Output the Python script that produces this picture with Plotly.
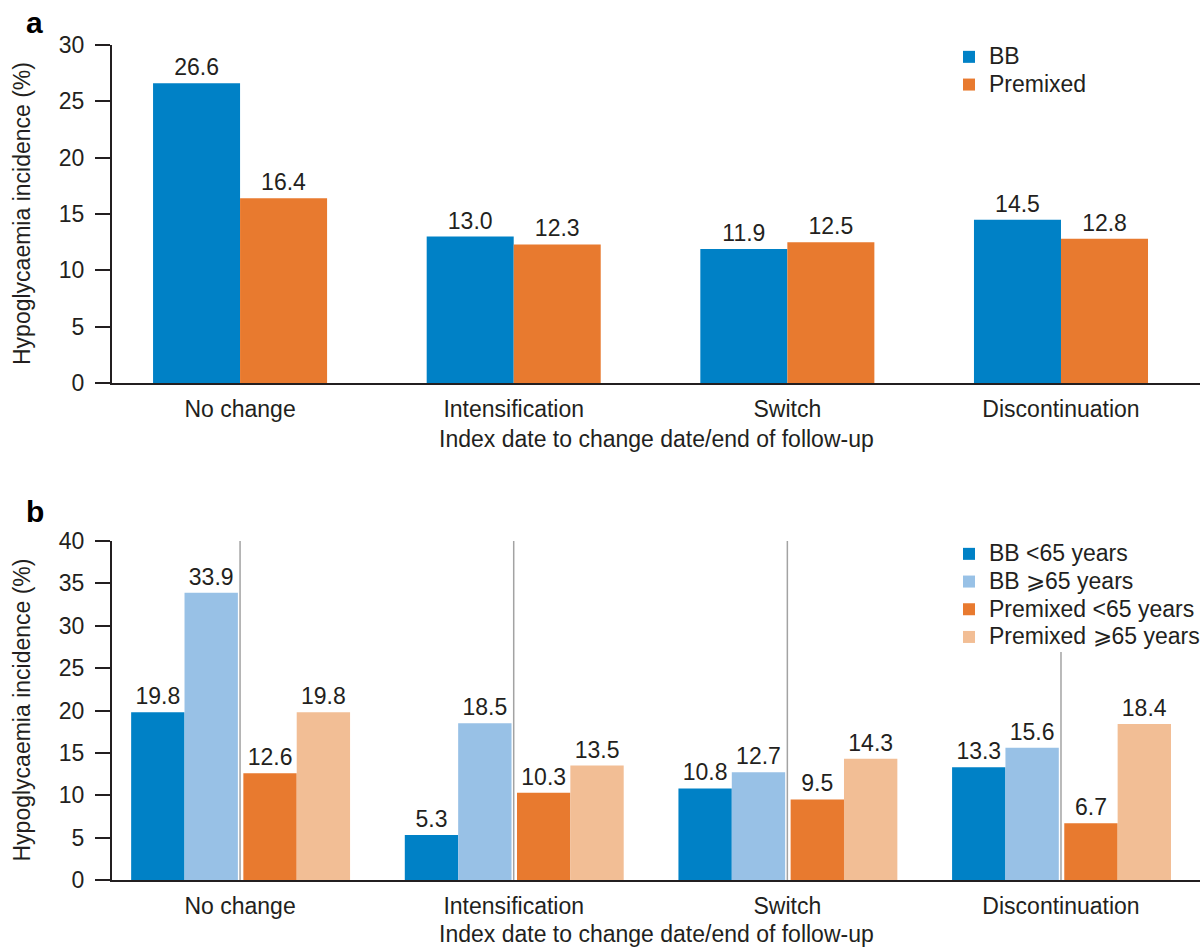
import plotly.graph_objects as go

# ---------------- data ----------------
categories = ["No change", "Intensification", "Switch", "Discontinuation"]

# panel a
bb_all = [26.6, 13.0, 11.9, 14.5]
premixed_all = [16.4, 12.3, 12.5, 12.8]

# panel b
bb_lt65 = [19.8, 5.3, 10.8, 13.3]
bb_ge65 = [33.9, 18.5, 12.7, 15.6]
pm_lt65 = [12.6, 10.3, 9.5, 6.7]
pm_ge65 = [19.8, 13.5, 14.3, 18.4]

names_a = ["BB", "Premixed"]
names_b = ["BB <65 years", "BB \u2a7e65 years", "Premixed <65 years", "Premixed \u2a7e65 years"]

ticks_a = [0, 5, 10, 15, 20, 25, 30]
ticks_b = [0, 5, 10, 15, 20, 25, 30, 35, 40]

y_title = "Hypoglycaemia incidence (%)"
x_title = "Index date to change date/end of follow-up"

# ---------------- style ----------------
W, H = 1201, 948
FONT = "Arial, Liberation Sans, Helvetica, sans-serif"
TXT = "#231f20"
FS = 23
C_BB = "#0081c6"
C_BB2 = "#98c1e6"
C_PM = "#e87a2f"
C_PM2 = "#f2be95"


def px_x(p):
    return p / W


def px_y(p):
    return 1 - p / H


xdom = [px_x(112), px_x(1200)]
ya_dom = [px_y(383), px_y(45)]
yb_dom = [px_y(880), px_y(541)]
xrange_ = [-0.468, 3.508]

fig = go.Figure()


def fmt(vals):
    return [f"{v:.1f}" for v in vals]


def leg_name(n):
    # larger glyphs than the legend's row spacing font (tighter rows as in reference)
    return f'<span style="font-size:23px">{n}</span>'


def add_bar(name, vals, color, xa, ya, legend, off, wid, grp):
    fig.add_trace(go.Bar(
        name=leg_name(name), x=categories, y=vals, text=fmt(vals),
        textposition="outside", cliponaxis=False, constraintext="none",
        textfont=dict(family=FONT, size=FS, color=TXT),
        marker=dict(color=color, line=dict(width=0)),
        offset=off, width=wid, xaxis=xa, yaxis=ya, legend=legend,
        legendgroup=grp, hoverinfo="skip",
    ))


add_bar(names_a[0], bb_all, C_BB, "x", "y", "legend", -0.318, 0.318, "a1")
add_bar(names_a[1], premixed_all, C_PM, "x", "y", "legend", 0.0, 0.318, "a2")

wb = 0.195
add_bar(names_b[0], bb_lt65, C_BB, "x2", "y2", "legend2", -0.398, wb, "b1")
add_bar(names_b[1], bb_ge65, C_BB2, "x2", "y2", "legend2", -0.203, wb, "b2")
add_bar(names_b[2], pm_lt65, C_PM, "x2", "y2", "legend2", 0.012, wb, "b3")
add_bar(names_b[3], pm_ge65, C_PM2, "x2", "y2", "legend2", 0.207, wb, "b4")

axis_common = dict(
    showline=True, linecolor=TXT, linewidth=2, showgrid=False, zeroline=False,
    tickfont=dict(family=FONT, size=FS, color=TXT), automargin=False,
)

LEG_FS = 19
fig.update_layout(
    width=W, height=H,
    margin=dict(l=0, r=0, t=0, b=0, autoexpand=False),
    paper_bgcolor="white", plot_bgcolor="white",
    font=dict(family=FONT, size=FS, color=TXT),
    barmode="group",
    xaxis=dict(domain=xdom, anchor="y", type="category", range=xrange_,
               ticks="", ticklabelstandoff=4, **axis_common),
    yaxis=dict(domain=ya_dom, anchor="x", range=[0, 30], tickvals=ticks_a,
               ticks="outside", ticklen=15, tickwidth=2, tickcolor=TXT,
               ticklabelstandoff=6, **axis_common),
    xaxis2=dict(domain=xdom, anchor="y2", type="category", range=xrange_,
                ticks="", ticklabelstandoff=4, **axis_common),
    yaxis2=dict(domain=yb_dom, anchor="x2", range=[0, 40], tickvals=ticks_b,
                ticks="outside", ticklen=15, tickwidth=2, tickcolor=TXT,
                ticklabelstandoff=6, **axis_common),
    legend=dict(x=px_x(949), y=px_y(38), xanchor="left", yanchor="top",
                bgcolor="rgba(0,0,0,0)", font=dict(family=FONT, size=LEG_FS, color=TXT),
                tracegroupgap=0, itemclick=False),
    legend2=dict(x=px_x(949), y=px_y(535), xanchor="left", yanchor="top",
                 bgcolor="rgba(0,0,0,0)", font=dict(family=FONT, size=LEG_FS, color=TXT),
                 tracegroupgap=0, itemclick=False),
    showlegend=True,
)

# separator lines in panel b
sep_tops = [40, 40, 40, 26.9]
for cat, top in zip(categories, sep_tops):
    fig.add_shape(type="line", xref="x2", yref="y2", x0=cat, x1=cat, y0=0, y1=top,
                  line=dict(color="#a3a3a3", width=1.5), layer="above")

ann = []
# panel letters
ann.append(dict(text="<b>a</b>", x=px_x(24), y=px_y(22), xref="paper", yref="paper",
                xanchor="left", yanchor="middle", showarrow=False,
                font=dict(family=FONT, size=30, color="black")))
ann.append(dict(text="<b>b</b>", x=px_x(24), y=px_y(512), xref="paper", yref="paper",
                xanchor="left", yanchor="middle", showarrow=False,
                font=dict(family=FONT, size=30, color="black")))
# y titles
for dom in (ya_dom, yb_dom):
    ann.append(dict(text=y_title, x=px_x(22), y=(dom[0] + dom[1]) / 2, xref="paper",
                    yref="paper", xanchor="center", yanchor="middle", textangle=-90,
                    showarrow=False, font=dict(family=FONT, size=FS, color=TXT)))
# x titles
for ypx in (439, 934):
    ann.append(dict(text=x_title, x=(xdom[0] + xdom[1]) / 2, y=px_y(ypx), xref="paper",
                    yref="paper", xanchor="center", yanchor="middle", showarrow=False,
                    font=dict(family=FONT, size=FS, color=TXT)))
fig.update_layout(annotations=ann)

fig.write_html("out.html")
